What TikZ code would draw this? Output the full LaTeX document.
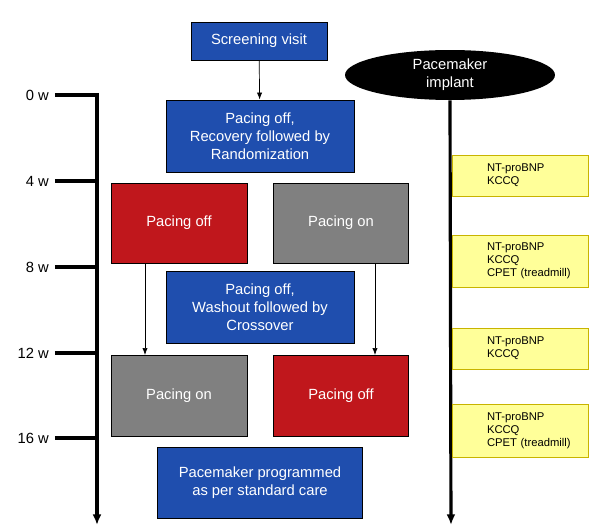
\documentclass[tikz,border=0pt]{standalone}
\usepackage{fontspec}
\setmainfont{Liberation Sans}
\usetikzlibrary{shapes.geometric,arrows.meta}
\definecolor{bblue}{HTML}{1F4EAE}
\definecolor{rred}{HTML}{C0171C}
\definecolor{ggray}{HTML}{808080}
\definecolor{yfill}{HTML}{FFFF99}
\definecolor{yline}{HTML}{C8B400}
\begin{document}
\begin{tikzpicture}[x=0.02cm,y=-0.02cm,
 box/.style={draw=black,line width=0.5pt,text=white,align=center,font=\fontsize{8.4}{10.2}\selectfont,inner sep=0pt},
 blue/.style={box,fill=bblue},red/.style={box,fill=rred},gray/.style={box,fill=ggray},
 note/.style={draw=yline,fill=yfill,font=\fontsize{6.4}{7.4}\selectfont,inner sep=0pt,minimum width=2.72cm},
 tl/.style={line width=1.8pt,-{Latex[length=6pt,width=5pt]}},
 arr/.style={-{Latex[length=4pt,width=3pt]},line width=0.4pt},
 tick/.style={line width=1.8pt},
 lab/.style={font=\fontsize{8.4}{10}\selectfont,anchor=east}]
\useasboundingbox (0,0) rectangle (600,530);
\node[blue,minimum width=2.72cm,minimum height=0.76cm] (sv) at (259,41) {Screening visit};
\node[blue,minimum width=3.76cm,minimum height=1.44cm] (rec) at (260,136) {Pacing off,\\Recovery followed by\\Randomization};
\draw[arr] (sv) -- (rec);
\node[ellipse,fill=black,text=white,align=center,font=\fontsize{8.4}{10.2}\selectfont,minimum width=4.2cm,minimum height=1cm,inner sep=0pt] (pm) at (450,75) {Pacemaker\\implant};
\node[red,minimum width=2.72cm,minimum height=1.6cm] (a1) at (179,223) {Pacing off};
\node[gray,minimum width=2.7cm,minimum height=1.6cm] (b1) at (341,223) {Pacing on};
\node[blue,minimum width=3.76cm,minimum height=1.44cm] (wash) at (260,307) {Pacing off,\\Washout followed by\\Crossover};
\node[gray,minimum width=2.72cm,minimum height=1.62cm] (a2) at (179,396) {Pacing on};
\node[red,minimum width=2.7cm,minimum height=1.62cm] (b2) at (341,396) {Pacing off};
\node[blue,minimum width=4.1cm,minimum height=1.42cm] (prog) at (260,483) {Pacemaker programmed\\as per standard care};
\draw[arr] (a1.south -| 145,0) -- (a2.north -| 145,0);
\draw[arr] (b1.south -| 375,0) -- (b2.north -| 375,0);
% left timeline
\coordinate (t0) at (97,93);
\coordinate (tend) at (97,525);
\draw[tl] (t0) -- (tend);
\foreach \y/\l [count=\i] in {95/0 w,181/4 w,267/8 w,353/12 w,438/16 w}{
 \coordinate (k\i) at (55,\y);
 \draw[tick] (k\i) -- (97,\y);
 \node[lab] (l\i) at (k\i) {\l};
}
% right timeline
\coordinate (rend) at (451,525);
\draw[tl] (pm.south) -- (rend);
\newcommand{\notetext}[1]{\hspace*{0.7cm}\begin{tabular}{@{}l@{}}#1\end{tabular}\hspace*{\fill}}
\node[note,minimum height=0.82cm,text width=2.72cm] (n1) at (520,175.5) {\notetext{NT-proBNP\\KCCQ}};
\node[note,minimum height=1.04cm,text width=2.72cm] (n2) at (520,261) {\notetext{NT-proBNP\\KCCQ\\CPET (treadmill)}};
\node[note,minimum height=0.82cm,text width=2.72cm] (n3) at (520,348.5) {\notetext{NT-proBNP\\KCCQ}};
\node[note,minimum height=1.06cm,text width=2.72cm] (n4) at (520,430.5) {\notetext{NT-proBNP\\KCCQ\\CPET (treadmill)}};
\end{tikzpicture}
\end{document}
